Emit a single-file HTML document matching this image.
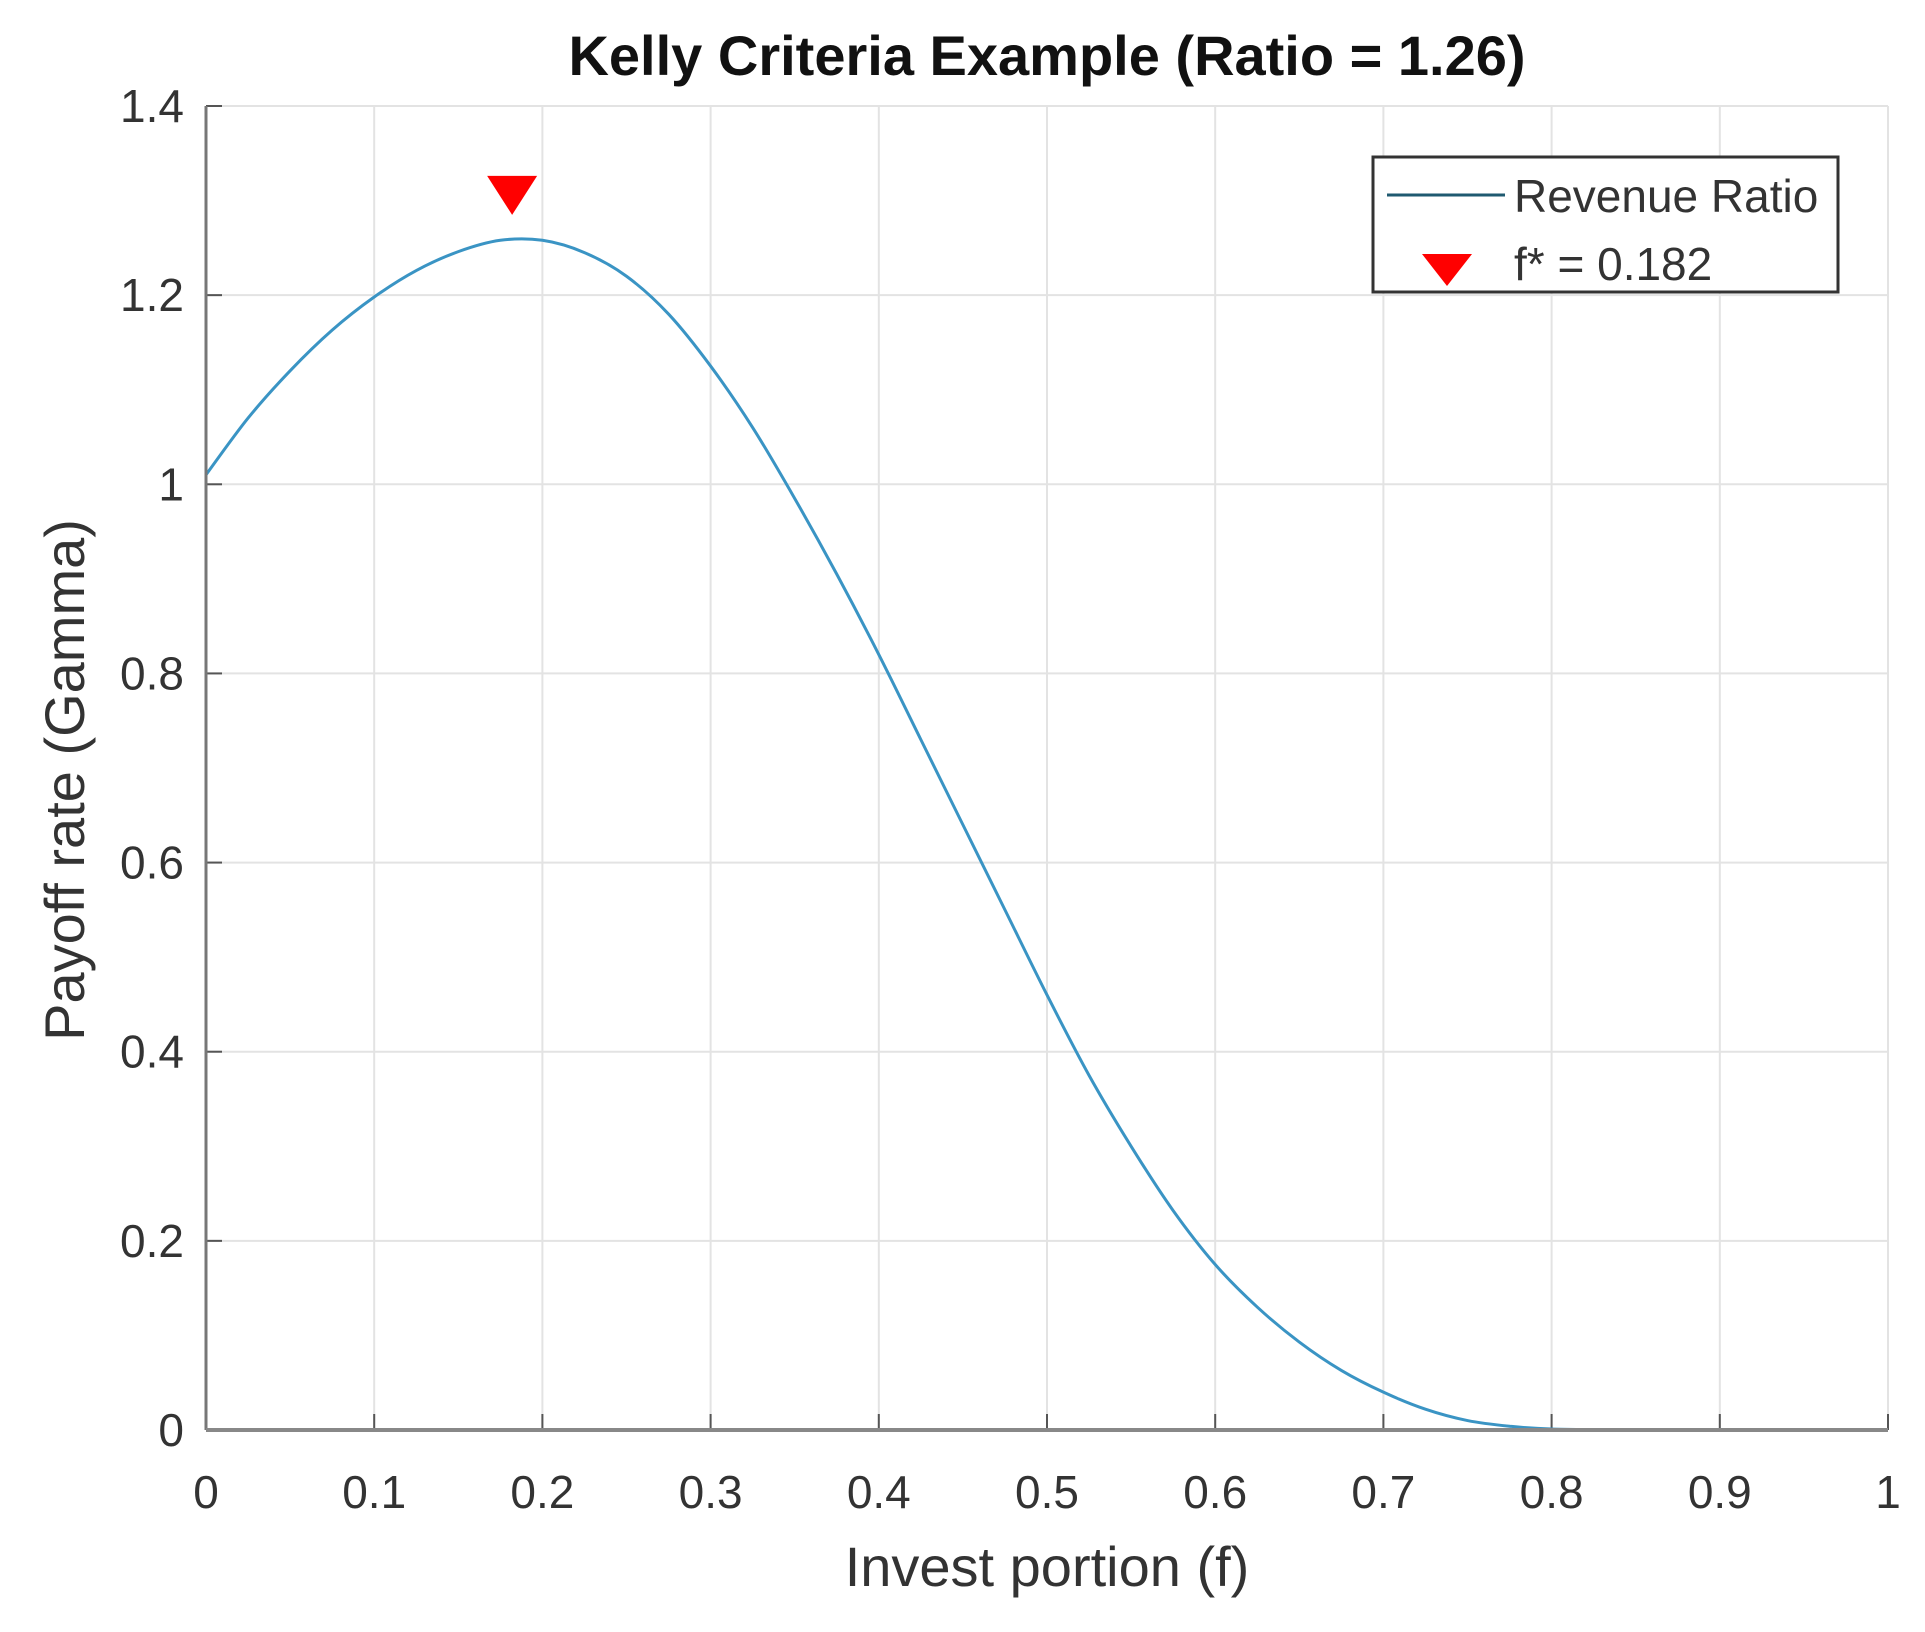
<!DOCTYPE html>
<html><head><meta charset="utf-8"><style>
html,body{margin:0;padding:0;background:#fff;}
svg{display:block;font-family:"Liberation Sans",Arial,sans-serif;}
</style></head><body>
<svg id="chart" width="1925" height="1632" viewBox="0 0 1925 1632">
<text x="1047" y="75" text-anchor="middle" font-size="56" font-weight="bold" fill="#111">Kelly Criteria Example (Ratio = 1.26)</text>
<g id="grid"></g>
<g id="xticks"></g>
<g id="yticks"></g>
<path id="curve" fill="none" stroke="#3a94c4" stroke-width="3"/>
<path id="marker" fill="#ff0000"/>
<text x="84" y="780" transform="rotate(-90 84 780)" text-anchor="middle" font-size="56" fill="#333">Payoff rate (Gamma)</text>
<text x="1047" y="1586" text-anchor="middle" font-size="56" fill="#333">Invest portion (f)</text>
<g>
<rect x="1373" y="157" width="465" height="135" fill="#fff" stroke="#333" stroke-width="3"/>
<line x1="1387" y1="195" x2="1505" y2="195" stroke="#1f5a70" stroke-width="3"/>
<text x="1514" y="212" font-size="46" fill="#333">Revenue Ratio</text>
<path d="M1422,254 L1472,254 L1447,286 Z" fill="#ff0000"/>
<text x="1514" y="280" font-size="46" fill="#333">f* = 0.182</text>
</g>
<line x1="206" y1="106" x2="206" y2="1430" stroke="#777" stroke-width="3"/>
<line x1="206" y1="1430" x2="1888" y2="1430" stroke="#888" stroke-width="4"/>
</svg>
<script>
const xTicks=[0,0.1,0.2,0.3,0.4,0.5,0.6,0.7,0.8,0.9,1];
const xTickLabels=["0","0.1","0.2","0.3","0.4","0.5","0.6","0.7","0.8","0.9","1"];
const yTicks=[0,0.2,0.4,0.6,0.8,1,1.2,1.4];
const yTickLabels=["0","0.2","0.4","0.6","0.8","1","1.2","1.4"];
const fValues=[0,0.025,0.05,0.075,0.1,0.125,0.15,0.175,0.2,0.225,0.25,0.275,0.3,0.325,0.35,0.375,0.4,0.425,0.45,0.475,0.5,0.525,0.55,0.575,0.6,0.625,0.65,0.675,0.7,0.725,0.75,0.775,0.8,0.85,0.9,0.95,1];
const gammaValues=[1.01,1.07,1.12,1.163,1.198,1.226,1.246,1.258,1.258,1.245,1.22,1.18,1.125,1.06,0.985,0.905,0.82,0.73,0.64,0.55,0.46,0.375,0.3,0.232,0.175,0.13,0.093,0.063,0.04,0.022,0.01,0.004,0.001,0,0,0,0];
const markerF=[0.182];
const markerGamma=[1.305];
const L=206,R=1888,T=106,B=1430;
const xs=v=>L+(R-L)*v;
const ys=v=>B-(B-T)*v/1.4;
const NS="http://www.w3.org/2000/svg";
const grid=document.getElementById('grid'),xg=document.getElementById('xticks'),yg=document.getElementById('yticks');
xTicks.forEach((t,i)=>{
 const l=document.createElementNS(NS,'line');
 l.setAttribute('x1',xs(t));l.setAttribute('x2',xs(t));l.setAttribute('y1',T);l.setAttribute('y2',B);
 l.setAttribute('stroke','#e3e3e3');l.setAttribute('stroke-width','2');
 
 
 grid.appendChild(l);
 const tk=document.createElementNS(NS,'line');
 tk.setAttribute('x1',xs(t));tk.setAttribute('x2',xs(t));tk.setAttribute('y1',B-16);tk.setAttribute('y2',B);
 tk.setAttribute('stroke','#555');tk.setAttribute('stroke-width','2');
 
 
 xg.appendChild(tk);
 const tx=document.createElementNS(NS,'text');
 tx.setAttribute('x',xs(t));tx.setAttribute('y',B+78);tx.setAttribute('text-anchor','middle');
 tx.setAttribute('font-size','46');tx.setAttribute('fill','#333');
 tx.textContent=xTickLabels[i];
 
 
 xg.appendChild(tx);
});
yTicks.forEach((t,i)=>{
 const l=document.createElementNS(NS,'line');
 l.setAttribute('x1',L);l.setAttribute('x2',R);l.setAttribute('y1',ys(t));l.setAttribute('y2',ys(t));
 l.setAttribute('stroke','#e3e3e3');l.setAttribute('stroke-width','2');
 
 
 grid.appendChild(l);
 const tk=document.createElementNS(NS,'line');
 tk.setAttribute('x1',L);tk.setAttribute('x2',L+16);tk.setAttribute('y1',ys(t));tk.setAttribute('y2',ys(t));
 tk.setAttribute('stroke','#555');tk.setAttribute('stroke-width','2');
 
 
 yg.appendChild(tk);
 const tx=document.createElementNS(NS,'text');
 tx.setAttribute('x',L-22);tx.setAttribute('y',ys(t)+16);tx.setAttribute('text-anchor','end');
 tx.setAttribute('font-size','46');tx.setAttribute('fill','#333');
 tx.textContent=yTickLabels[i];
 
 
 yg.appendChild(tx);
});
const P=fValues.map((f,i)=>[xs(f),ys(gammaValues[i])]);
let d='M'+P[0][0]+','+P[0][1];
for(let i=0;i<P.length-1;i++){
 const p0=P[i-1]||P[i],p1=P[i],p2=P[i+1],p3=P[i+2]||P[i+1];
 const c1=[p1[0]+(p2[0]-p0[0])/6,p1[1]+(p2[1]-p0[1])/6];
 const c2=[p2[0]-(p3[0]-p1[0])/6,p2[1]-(p3[1]-p1[1])/6];
 d+=` C${c1[0]},${c1[1]} ${c2[0]},${c2[1]} ${p2[0]},${p2[1]}`;
}
document.getElementById('curve').setAttribute('d',d);
const mx=xs(markerF[0]),my=ys(markerGamma[0]);
document.getElementById('marker').setAttribute('d',`M${mx-25},${my-20} L${mx+25},${my-20} L${mx},${my+19} Z`);
</script>
</body></html>
